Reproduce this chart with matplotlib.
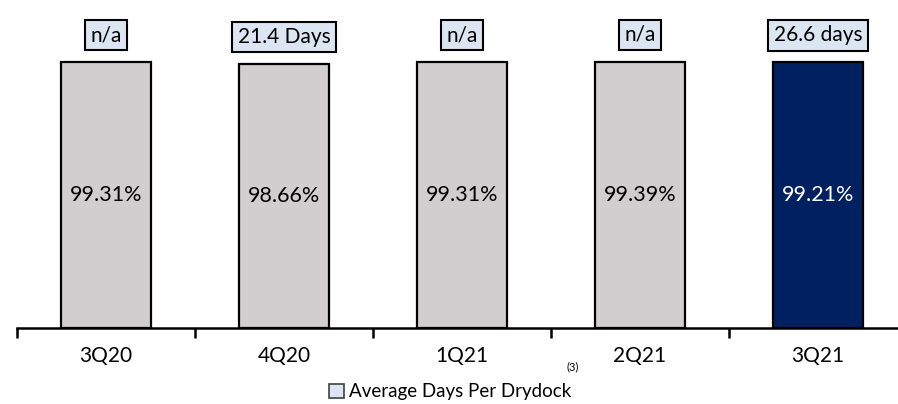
import matplotlib
matplotlib.use("Agg")
import matplotlib.pyplot as plt
from matplotlib.patches import Patch
from matplotlib.transforms import blended_transform_factory

plt.rcParams['font.family'] = ['Lato', 'DejaVu Sans']

categories = ["3Q20", "4Q20", "1Q21", "2Q21", "3Q21"]
utilization = [99.31, 98.66, 99.31, 99.39, 99.21]
days_labels = ["n/a", "21.4 Days", "n/a", "n/a", "26.6 days"]
bar_colors = ["#D0CECE", "#D0CECE", "#D0CECE", "#D0CECE", "#002060"]
value_text_colors = ["black", "black", "black", "black", "white"]
legend_label = "Average Days Per Drydock"

W, H = 898, 404
fig = plt.figure(figsize=(W / 100, H / 100), dpi=100)
ax = fig.add_axes([17 / W, (H - 327.5) / H, 890 / W, 327.5 / H])

x = list(range(len(categories)))
ax.bar(x, utilization, width=0.506, color=bar_colors, edgecolor="black", linewidth=1.6, zorder=2)

ax.set_xlim(-0.5, len(categories) - 0.5)
ax.set_ylim(0, 122.4)

for xi, v, c in zip(x, utilization, value_text_colors):
    ax.text(xi, v / 2, f"{v:.2f}%", ha="center", va="center", fontsize=15.5, color=c)

for xi, v, lab in zip(x, utilization, days_labels):
    ax.text(xi, v + 10, lab, ha="center", va="center", fontsize=15, color="black",
            bbox=dict(boxstyle="square,pad=0.25", facecolor="#DCE6F2", edgecolor="black", linewidth=1.5))

for s in ["top", "right", "left"]:
    ax.spines[s].set_visible(False)
ax.spines["bottom"].set_linewidth(1.8)
ax.set_yticks([])

ax.set_xticks(x)
ax.set_xticklabels(categories, fontsize=15)
ax.tick_params(axis="x", which="major", length=0, pad=13)
ax.set_xticks([i - 0.5 for i in range(len(categories) + 1)], minor=True)
ax.tick_params(axis="x", which="minor", length=7, width=1.8, direction="out")

trans = blended_transform_factory(ax.transData, fig.transFigure)
ax.text(2.62, (H - 367) / H, "(3)", transform=trans, ha="center", va="center", fontsize=8)

fig.legend(handles=[Patch(facecolor="#DCE6F2", edgecolor="#404040", linewidth=1.2)],
           labels=[legend_label], loc="center", bbox_to_anchor=(450 / W, (H - 392) / H),
           frameon=False, fontsize=13.5, handlelength=0.8, handleheight=0.8, handletextpad=0.3)

fig.savefig("out.png", dpi=100)
